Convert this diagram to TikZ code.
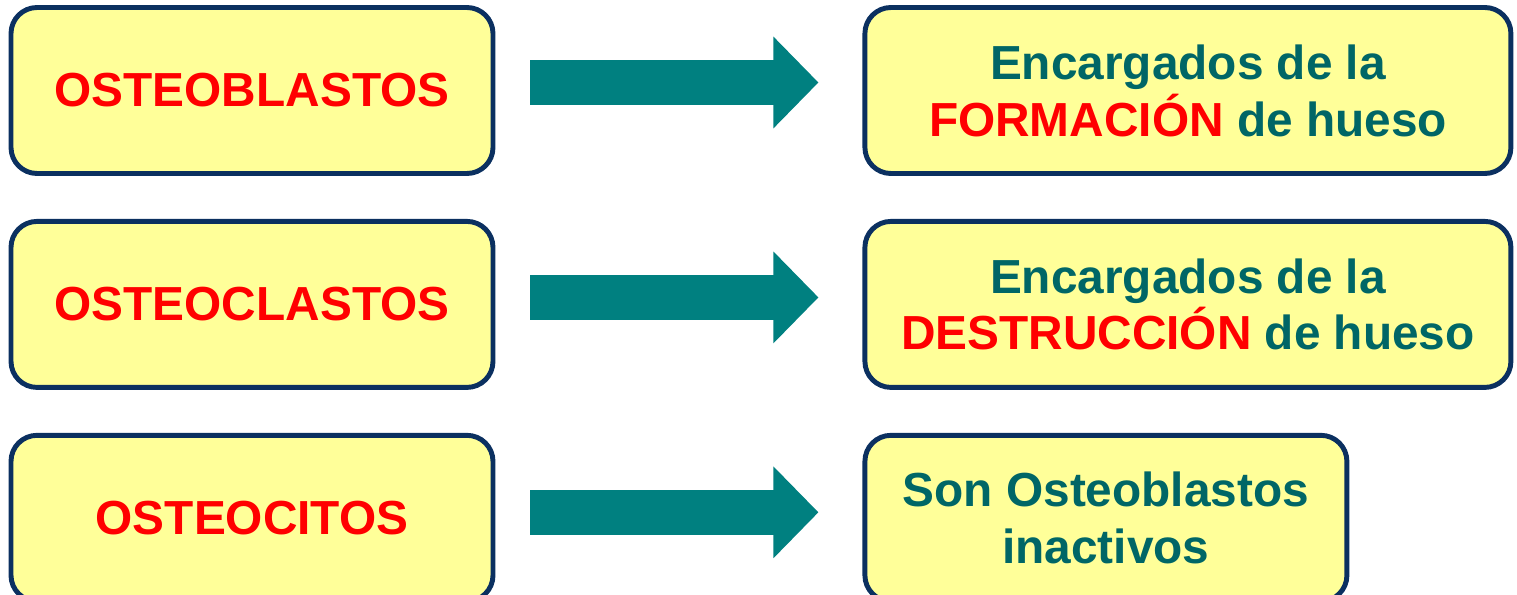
\documentclass[tikz,border=0pt]{standalone}
\usepackage{xcolor}
\usepackage{fontspec}
\setmainfont{Liberation Sans}
\usepackage{tikz}
\usetikzlibrary{arrows.meta, positioning}
\definecolor{boxfill}{HTML}{FFFF99}
\definecolor{boxline}{HTML}{0B3060}
\definecolor{tealtext}{HTML}{006666}
\definecolor{tealarrow}{HTML}{008080}
\tikzstyle{cell} = [rectangle, draw=boxline, line width=1.4pt, fill=boxfill,
    rounded corners=0.26cm, minimum width=4.82cm, minimum height=1.66cm,
    text centered, font=\fontsize{13.6}{16.2}\selectfont\bfseries]
\tikzstyle{role} = [cell, text=tealtext, align=center]
\tikzstyle{push} = [draw=tealarrow, line width=0.45cm,
    -{Triangle[length=0.45cm, width=0.89cm]}, shorten <=0.35cm, shorten >=0.44cm]

\begin{document}
\begin{tikzpicture}[node distance = 0.43cm, auto]
      \useasboundingbox (0,0) rectangle (15.17,-5.95);
      % cells
      \node [cell, text=red] (blast) at (2.52,-0.905) {OSTEOBLASTOS};
      \node [cell, text=red, below= of blast] (clast) {OSTEOCLASTOS};
      \node [cell, text=red, below= of clast] (cyte) {OSTEOCITOS};
      % roles
      \node [role, minimum width=6.46cm, right=3.67cm of blast] (form)
          {Encargados de la\\\textcolor{red}{FORMACIÓN} de hueso};
      \node [role, minimum width=6.46cm, right=3.67cm of clast] (destr)
          {Encargados de la\\\textcolor{red}{DESTRUCCIÓN} de hueso};
      \node [role, right=3.67cm of cyte] (inact) {Son Osteoblastos\\inactivos};
      % Draw arrows
      \path [push] ([yshift=0.08cm]blast.east) -- ([yshift=0.08cm]form.west);
      \path [push] ([yshift=0.07cm]clast.east) -- ([yshift=0.07cm]destr.west);
      \path [push] ([yshift=0.06cm]cyte.east) -- ([yshift=0.06cm]inact.west);
\end{tikzpicture}
\end{document}
